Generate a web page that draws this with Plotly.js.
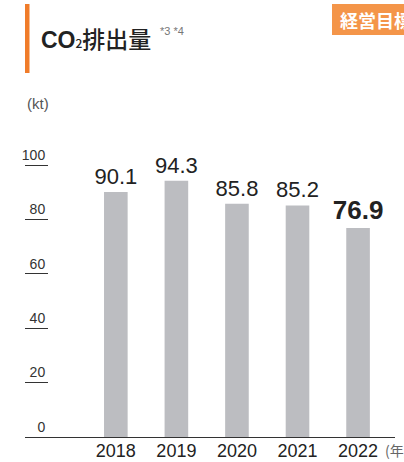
<!DOCTYPE html>
<html><head><meta charset="utf-8">
<script src="https://cdn.plot.ly/plotly-3.0.1.min.js"></script>
<style>html,body{margin:0;padding:0;background:#fff}#chart{width:404px;height:462px}</style>
</head><body><div id="chart"></div>
<script>
// ---- data ----
const years = ["2018", "2019", "2020", "2021", "2022"];
const co2Kt = [90.1, 94.3, 85.8, 85.2, 76.9];
const highlightYear = "2022";
const yTickVals = [0, 20, 40, 60, 80, 100];
const yTickText = ["0", "20", "40", "60", "80", "100"];
const titleText = "<span style='font-family:Liberation Sans;font-weight:bold'>CO</span><span style='font-size:12px'>2</span>排出量";
const noteText = "*3 *4";
const unitText = "(kt)";
const xUnitText = "(年度)";
const badgeText = "経営目標";

// ---- layout geometry ----
const FW = 404, FH = 462;
const M = {l: 25, r: 9, t: 138, b: 25};
const PW = FW - M.l - M.r, PH = FH - M.t - M.b;
const px = x => (x - M.l) / PW;           // figure px -> paper x
const py = y => (FH - M.b - y) / PH;      // figure px -> paper y

const sans = "Liberation Sans, Arial, sans-serif";
const jp = "Noto Sans CJK JP, sans-serif";

const labels = co2Kt.map((v, i) => years[i] === highlightYear ? "<b>" + v.toFixed(1) + "</b>" : v.toFixed(1));
const labelSizes = years.map(y => y === highlightYear ? 26 : 22);

const trace = {
  type: "bar",
  x: years,
  y: co2Kt,
  marker: {color: "#bcbdc1"},
  text: labels,
  textposition: "outside",
  constraintext: "none",
  textfont: {family: sans, size: labelSizes, color: "#222"},
  cliponaxis: false,
  hoverinfo: "skip"
};

const layout = {
  width: FW, height: FH,
  margin: M,
  paper_bgcolor: "#fff", plot_bgcolor: "#fff",
  showlegend: false,
  bargap: 0.61,
  xaxis: {
    type: "category",
    range: [-1.5, 4.61],
    showline: true, linecolor: "#333", linewidth: 1,
    ticks: "", showgrid: false, zeroline: false,
    ticklabelstandoff: -3,
    tickfont: {family: sans, size: 18, color: "#222"},
    fixedrange: true
  },
  yaxis: {
    range: [0, 110],
    anchor: "free", position: px(48),
    tickvals: yTickVals, ticktext: yTickText,
    ticks: "outside", ticklen: 23, tickcolor: "#333", tickwidth: 1,
    ticklabelposition: "outside top",
    tickfont: {family: sans, size: 14, color: "#333"},
    showline: false, showgrid: false, zeroline: false,
    fixedrange: true
  },
  shapes: [
    {type: "rect", xref: "paper", yref: "paper", x0: px(25), x1: px(29.5), y0: py(73), y1: py(4), fillcolor: "#f07c2a", line: {width: 0}},
    {type: "rect", xref: "paper", yref: "paper", x0: px(332), x1: px(420), y0: py(35), y1: py(4), fillcolor: "#f49549", line: {width: 0}}
  ],
  annotations: [
    {xref: "paper", yref: "paper", x: px(39), y: py(38), xanchor: "left", yanchor: "middle", showarrow: false,
     text: titleText, font: {family: jp, size: 23, weight: 500, color: "#222"}},
    {xref: "paper", yref: "paper", x: px(158), y: py(31), xanchor: "left", yanchor: "middle", showarrow: false,
     text: noteText, font: {family: sans, size: 11, color: "#777"}},
    {xref: "paper", yref: "paper", x: px(338), y: py(20), xanchor: "left", yanchor: "middle", showarrow: false,
     text: "<b>" + badgeText + "</b>", font: {family: jp, size: 18, color: "#fff"}},
    {xref: "paper", yref: "paper", x: px(25), y: py(103), xanchor: "left", yanchor: "middle", showarrow: false,
     text: unitText, font: {family: sans, size: 15, color: "#555"}},
    {xref: "paper", yref: "paper", x: px(383), y: py(450), xanchor: "left", yanchor: "middle", showarrow: false,
     text: xUnitText, font: {family: jp, size: 14, color: "#666"}}
  ]
};

Plotly.newPlot("chart", [trace], layout, {displayModeBar: false, staticPlot: true});
</script></body></html>
